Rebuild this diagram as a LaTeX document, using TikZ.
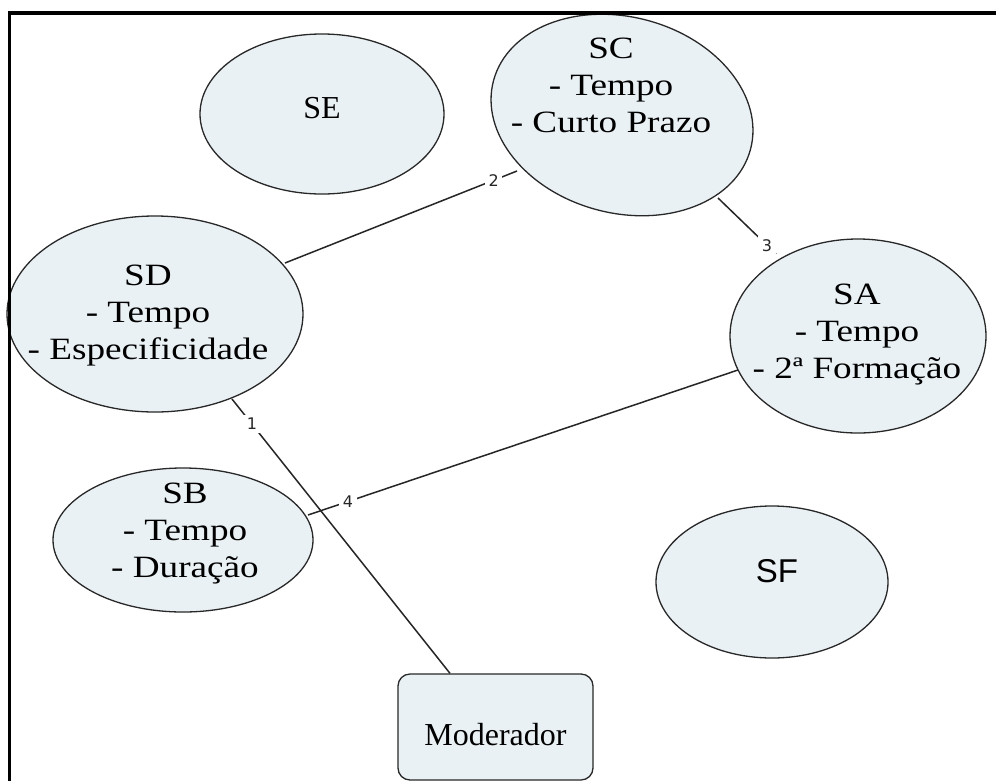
\documentclass[tikz,border=0pt]{standalone}
\usepackage{fontspec}
\setmainfont{Liberation Serif}
\newfontfamily\lblfont{DejaVu Sans}
\newfontfamily\arialfont{Liberation Sans}
\usetikzlibrary{shapes.geometric,calc}
\definecolor{blobfill}{RGB}{234,241,244}
\definecolor{edgecol}{RGB}{40,40,40}
\newcommand\mltext[1]{\scalebox{1.2}[1]{\begin{tabular}{@{}c@{}}#1\end{tabular}}}
\tikzset{
  blob/.style={ellipse, draw=edgecol, line width=1.3pt, fill=blobfill, inner sep=0pt},
  txt/.style={inner sep=0pt, font=\fontsize{31}{37}\selectfont},
  bigtxt/.style={inner sep=0pt, font=\fontsize{32}{38}\selectfont},
  modbox/.style={draw=edgecol, line width=1.3pt, fill=blobfill, rounded corners=12pt,
    minimum width=195pt, minimum height=106pt, text height=36pt, text depth=0pt,
    font=\fontsize{32}{38}\selectfont},
  conn/.style={draw=black!85, line width=1.5pt},
  lbl/.style={fill=white, inner sep=3.5pt, font=\lblfont\fontsize{16}{18}\selectfont, text=black!85},
  frame/.style={line width=3.7pt, draw=black}
}
\begin{document}
\begin{tikzpicture}[x=1pt,y=1pt]
\useasboundingbox (0,0) rectangle (996,-780);
\fill[white] (0,0) rectangle (996,-780);

% ellipses
\node[blob, minimum width=244pt, minimum height=160pt] (SE) at (322,-114) {};
\node[blob, rotate=-15, minimum width=266pt, minimum height=196pt] (SC) at (622,-115) {};
\node[blob, minimum width=296pt, minimum height=196pt] (SD) at (155,-314) {};
\node[blob, minimum width=256pt, minimum height=194pt] (SA) at (858,-336) {};
\node[blob, minimum width=260pt, minimum height=144pt] (SB) at (183,-540) {};
\node[blob, minimum width=232pt, minimum height=152pt] (SF) at (772,-582) {};
\node[modbox] (Mod) at (495.5,-727) {Moderador};

% texts
\node[bigtxt] (SEt) at (322,-108) {SE};
\node[txt] (SCt) at (611,-88) {\mltext{SC\\- Tempo\\- Curto Prazo}};
\node[txt] (SDt) at (148,-315) {\mltext{SD\\- Tempo\\- Especificidade}};
\node[txt] (SAt) at (857,-334) {\mltext{SA\\- Tempo\\- 2ª Formação}};
\node[txt] (SBt) at (185,-533) {\mltext{SB\\- Tempo\\- Duração}};
\node[inner sep=0pt, font=\arialfont\fontsize{33}{38}\selectfont] (SFt) at (777,-571) {SF};

% connectors
\draw[conn] ($(SD.center)+(77,-85)$) -- node[lbl, pos=0.091] {1} ($(Mod.north)+(-45.5,0)$);
\draw[conn] ($(SD.center)+(130,51)$) -- node[lbl, pos=0.90] {2} ($(SC.center)+(-105,-56)$);
\draw[conn] ($(SC.center)+(96,-83)$) -- node[lbl, pos=0.845] {3} ($(SA.center)+(-82,82)$);
\draw[conn] ($(SA.center)+(-120,-34)$) -- node[lbl, pos=0.907] {4} ($(SB.center)+(125,25)$);

% frame (top and left edges)
\draw[frame] (9.5,-782) -- (9.5,-13.2) -- (998,-13.2);
\end{tikzpicture}
\end{document}
